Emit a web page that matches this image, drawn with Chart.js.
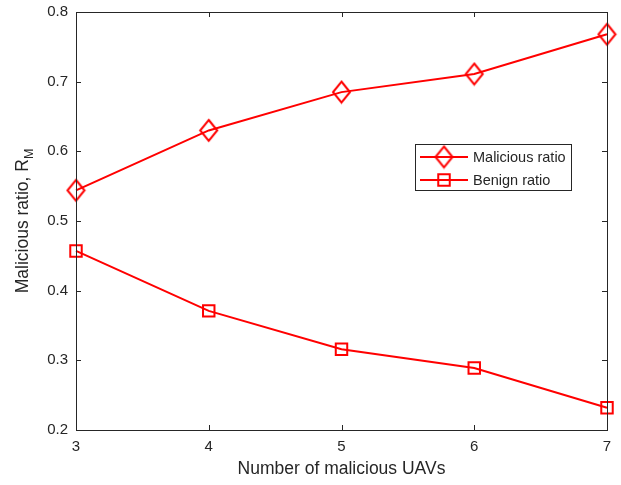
<!DOCTYPE html>
<html>
<head>
<meta charset="utf-8">
<script src="https://cdn.jsdelivr.net/npm/chart.js@4.4.1/dist/chart.umd.min.js"></script>
<style>
  html, body { margin: 0; padding: 0; background: #fff; }
  canvas { display: block; }
</style>
</head>
<body>
<canvas id="c" width="621" height="485"></canvas>
<script>
// chart data
const uavCounts = [3, 4, 5, 6, 7];
const maliciousRatio = [0.544, 0.630, 0.685, 0.711, 0.768];
const benignRatio = [0.457, 0.371, 0.316, 0.289, 0.232];
const seriesNames = ['Malicious ratio', 'Benign ratio'];
const yTicks = [0.2, 0.3, 0.4, 0.5, 0.6, 0.7, 0.8];

const FONT = '"Liberation Sans", Arial, Helvetica, sans-serif';
const INK = '#262626';
const RED = '#ff0000';

// matlab-like tall diamond marker
function diamondMarker(hw, hh) {
  const cv = document.createElement('canvas');
  cv.width = hw * 2 + 4; cv.height = hh * 2 + 4;
  const g = cv.getContext('2d');
  const cx = cv.width / 2, cy = cv.height / 2;
  g.strokeStyle = RED; g.lineWidth = 2;
  g.beginPath();
  g.moveTo(cx, cy - hh); g.lineTo(cx + hw, cy); g.lineTo(cx, cy + hh); g.lineTo(cx - hw, cy);
  g.closePath(); g.stroke();
  return cv;
}
const diamond = diamondMarker(8.5, 10.5);

const frame = {
  id: 'frame',
  afterDraw(chart) {
    const { ctx, chartArea: a, scales: { x, y } } = chart;
    ctx.save();
    ctx.strokeStyle = INK; ctx.lineWidth = 1;
    ctx.strokeRect(Math.round(a.left) + 0.5, Math.round(a.top) + 0.5,
                   Math.round(a.right - a.left), Math.round(a.bottom - a.top));
    ctx.beginPath();
    const t = 5;
    uavCounts.forEach(v => {
      const px = Math.round(x.getPixelForValue(v)) + 0.5;
      ctx.moveTo(px, a.bottom); ctx.lineTo(px, a.bottom - t);
      ctx.moveTo(px, a.top); ctx.lineTo(px, a.top + t);
    });
    yTicks.forEach(v => {
      const py = Math.round(y.getPixelForValue(v)) + 0.5;
      ctx.moveTo(a.left, py); ctx.lineTo(a.left + t, py);
      ctx.moveTo(a.right, py); ctx.lineTo(a.right - t, py);
    });
    ctx.stroke();

    // axis titles
    ctx.fillStyle = INK;
    ctx.font = '17.5px ' + FONT;
    ctx.textAlign = 'center'; ctx.textBaseline = 'alphabetic';
    ctx.fillText('Number of malicious UAVs', (a.left + a.right) / 2, 474);

    ctx.save();
    ctx.translate(28, (a.top + a.bottom) / 2);
    ctx.rotate(-Math.PI / 2);
    const main = 'Malicious ratio, R';
    ctx.font = '17.5px ' + FONT;
    const wMain = ctx.measureText(main).width;
    ctx.font = '12.5px ' + FONT;
    const wSub = ctx.measureText('M').width;
    const x0 = -(wMain + wSub) / 2;
    ctx.textAlign = 'left';
    ctx.font = '17.5px ' + FONT;
    ctx.fillText(main, x0, 0);
    ctx.font = '12.5px ' + FONT;
    ctx.fillText('M', x0 + wMain, 5);
    ctx.restore();

    // legend box
    const lx = 415, ly = 144, lw = 156, lh = 46;
    ctx.fillStyle = '#fff';
    ctx.fillRect(lx, ly, lw, lh);
    ctx.strokeStyle = INK;
    ctx.strokeRect(lx + 0.5, ly + 0.5, lw, lh);
    chart.data.datasets.forEach((ds, i) => {
      const yy = ly + 13 + i * 23;
      ctx.strokeStyle = RED; ctx.lineWidth = 2;
      ctx.beginPath(); ctx.moveTo(420, yy); ctx.lineTo(468, yy); ctx.stroke();
      if (ds.pointStyle === 'rect') {
        ctx.strokeRect(444 - 5.75, yy - 5.75, 11.5, 11.5);
      } else {
        ctx.drawImage(ds.pointStyle, 444 - ds.pointStyle.width / 2, yy - ds.pointStyle.height / 2);
      }
      ctx.fillStyle = INK;
      ctx.font = '14.5px ' + FONT;
      ctx.textAlign = 'left'; ctx.textBaseline = 'middle';
      ctx.fillText(ds.label, 473, yy + 1);
    });
    ctx.restore();
  }
};

new Chart(document.getElementById('c'), {
  type: 'line',
  data: {
    labels: uavCounts,
    datasets: [
      {
        label: seriesNames[0],
        data: uavCounts.map((v, i) => ({ x: v, y: maliciousRatio[i] })),
        borderColor: RED, borderWidth: 2,
        pointStyle: diamond, pointRadius: 10,
        pointBorderColor: RED, pointBackgroundColor: 'rgba(0,0,0,0)',
        tension: 0
      },
      {
        label: seriesNames[1],
        data: uavCounts.map((v, i) => ({ x: v, y: benignRatio[i] })),
        borderColor: RED, borderWidth: 2,
        pointStyle: 'rect', pointRadius: 8.1, pointBorderWidth: 2,
        pointBorderColor: RED, pointBackgroundColor: 'rgba(0,0,0,0)',
        tension: 0
      }
    ]
  },
  options: {
    responsive: false,
    animation: false,
    clip: false,
    layout: { padding: { top: 11, right: 14, left: 0, bottom: 0 } },
    plugins: { legend: { display: false }, tooltip: { enabled: false } },
    scales: {
      x: {
        type: 'linear', min: 3, max: 7,
        grid: { display: false, drawTicks: false },
        border: { display: false },
        afterBuildTicks: s => { s.ticks = uavCounts.map(v => ({ value: v })); },
        afterFit: s => { s.height = 55; s.paddingLeft = 0; s.paddingRight = 0; },
        ticks: { color: INK, font: { family: FONT, size: 15 }, padding: 8, maxRotation: 0 }
      },
      y: {
        min: 0.2, max: 0.8,
        grid: { display: false, drawTicks: false },
        border: { display: false },
        afterBuildTicks: s => { s.ticks = yTicks.map(v => ({ value: v })); },
        afterFit: s => { s.width = 76; s.paddingTop = 0; s.paddingBottom = 0; },
        ticks: { color: INK, font: { family: FONT, size: 15 }, padding: 8,
                 callback: v => v.toFixed(1) }
      }
    }
  },
  plugins: [frame]
});
</script>
</body>
</html>
